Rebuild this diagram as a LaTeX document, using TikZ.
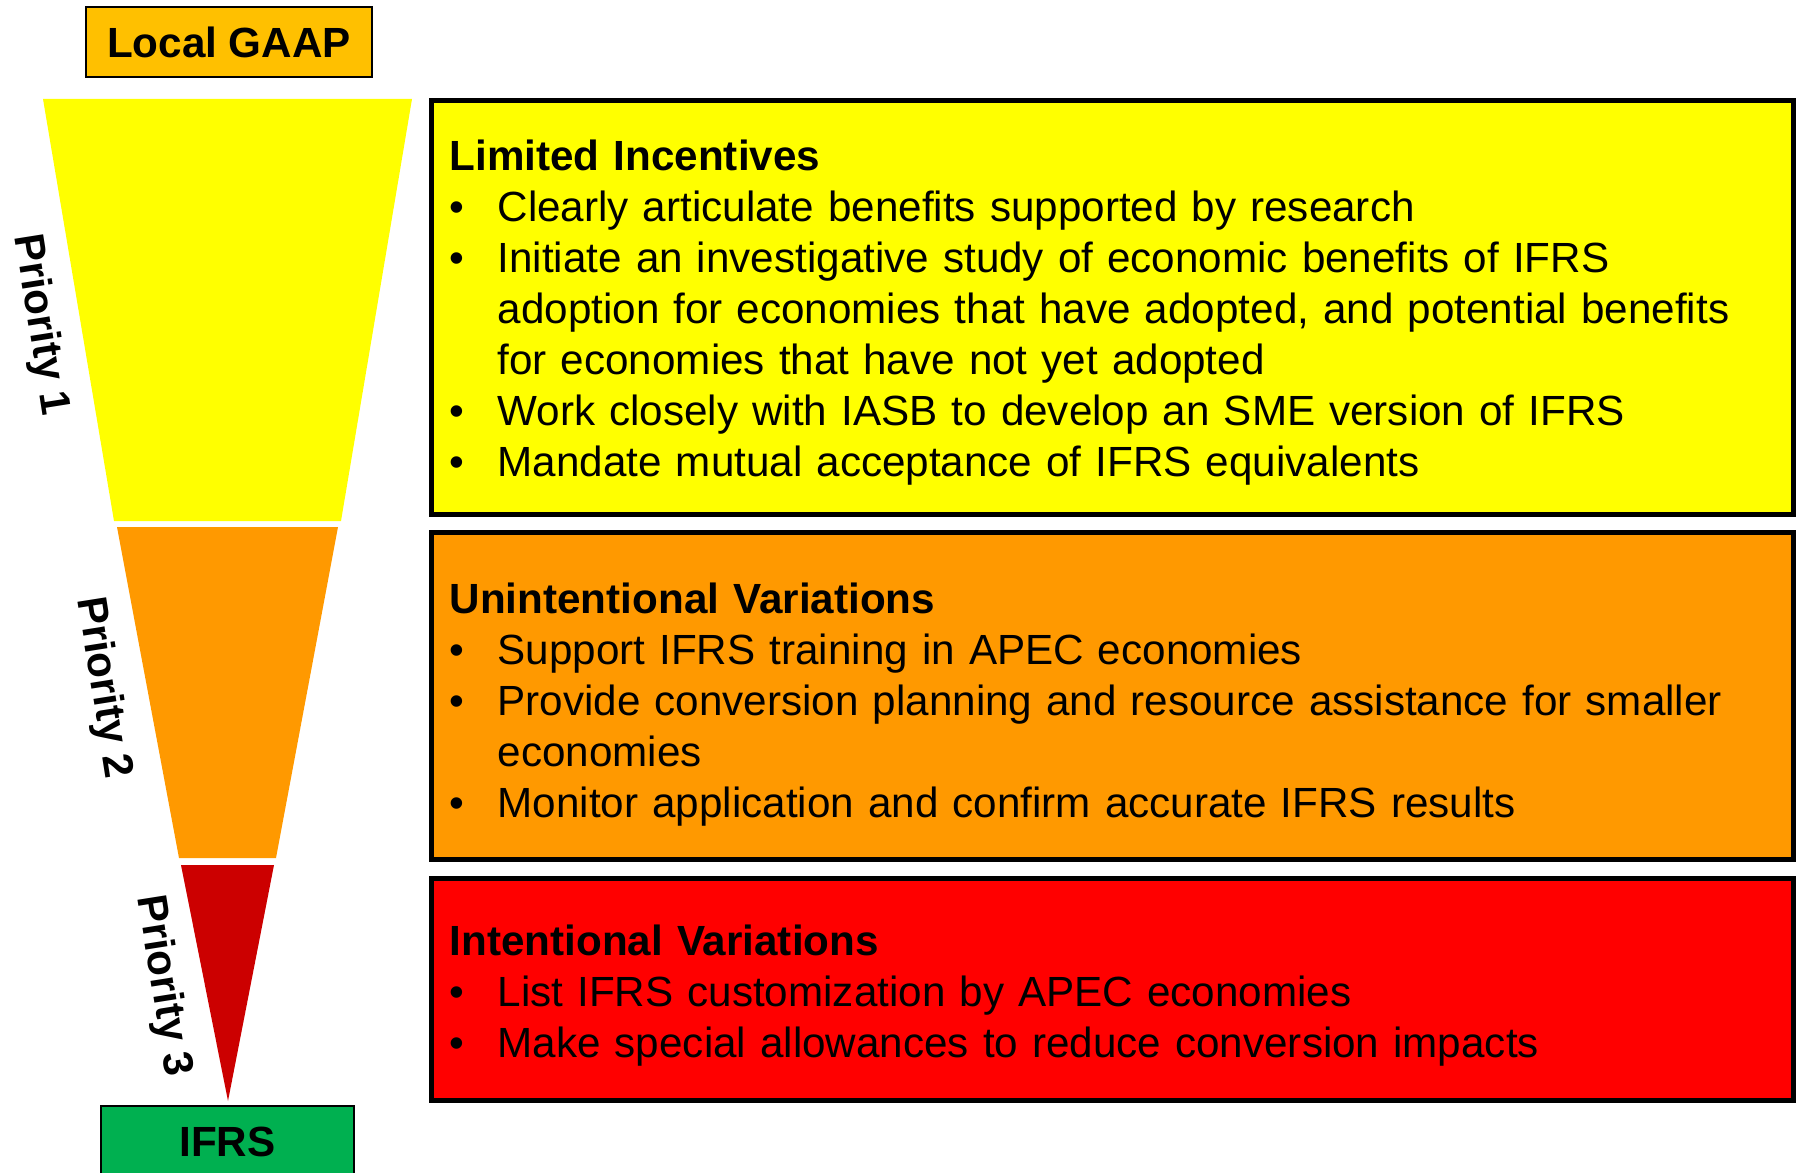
\documentclass[tikz,border=0pt]{standalone}
\usepackage{fontspec}
\setmainfont{Liberation Sans}
\definecolor{gaapfill}{HTML}{FFC000}
\definecolor{ifrsfill}{HTML}{00B050}
\definecolor{tierone}{HTML}{FFFF00}
\definecolor{tiertwo}{HTML}{FF9900}
\definecolor{tierthree}{HTML}{CC0000}
\definecolor{intentfill}{HTML}{FF0000}
\newcommand{\bul}{\makebox[0.48cm][l]{\textbullet}}
\newcommand{\cont}{\hspace*{0.48cm}}
\tikzset{
  endbox/.style={
    rectangle, draw=black, line width=0.6pt, inner sep=0pt,
    font=\bfseries\fontsize{12}{14.5}\selectfont
  },
  prioritylabel/.style={
    rotate=-81, inner sep=0pt, font=\bfseries\fontsize{12}{14.5}\selectfont
  },
  infobox/.style={
    rectangle, draw=black, line width=1.4pt,
    minimum width=13.62cm, text width=13.25cm, inner xsep=0.185cm,
    align=left, font=\fontsize{12}{14.5}\selectfont
  }
}

\begin{document}
\begin{tikzpicture}[x=0.01cm,y=-0.01cm]
  \useasboundingbox (0,0) rectangle (1800,1173);

  % Funnel from local GAAP down to IFRS.
  \node[endbox,fill=gaapfill,minimum width=2.86cm,minimum height=0.70cm] (gaap) at (229,42) {Local GAAP};
  \fill[tierone] (43,99) -- (412,99) -- (341,521) -- (114,521) -- cycle;
  \fill[tiertwo] (117,527) -- (338,527) -- (276,858) -- (179,858) -- cycle;
  \fill[tierthree] (181,865) -- (274,865) -- (228,1101) -- cycle;
  \node[endbox,fill=ifrsfill,minimum width=2.53cm,minimum height=0.72cm] (ifrs) at (227.5,1142) {IFRS};

  \node[prioritylabel] (prio1) at (40,325) {Priority 1};
  \node[prioritylabel] (prio2) at (103,688) {Priority 2};
  \node[prioritylabel] (prio3) at (163,986) {Priority 3};

  % Actions for each priority; the struts push each block a little down.
  \node[infobox,fill=tierone,minimum height=4.14cm] (incent) at (1112.5,307.5) {%
    \rule{0pt}{0.41cm}\textbf{Limited Incentives}\\
    \bul Clearly articulate benefits supported by research\\
    \bul Initiate an investigative study of economic benefits of IFRS\\
    \cont adoption for economies that have adopted, and potential benefits\\
    \cont for economies that have not yet adopted\\
    \bul Work closely with IASB to develop an SME version of IFRS\\
    \bul Mandate mutual acceptance of IFRS equivalents};
  \node[infobox,fill=tiertwo,minimum height=3.27cm] (unintent) at (1112.5,696) {%
    \rule{0pt}{0.47cm}\textbf{Unintentional Variations}\\
    \bul Support IFRS training in APEC economies\\
    \bul Provide conversion planning and resource assistance for smaller\\
    \cont economies\\
    \bul Monitor application and confirm accurate IFRS results};
  \node[infobox,fill=intentfill,minimum height=2.22cm] (intent) at (1112.5,989.5) {%
    \rule{0pt}{0.43cm}\textbf{Intentional Variations}\\
    \bul List IFRS customization by APEC economies\\
    \bul Make special allowances to reduce conversion impacts};
\end{tikzpicture}
\end{document}
